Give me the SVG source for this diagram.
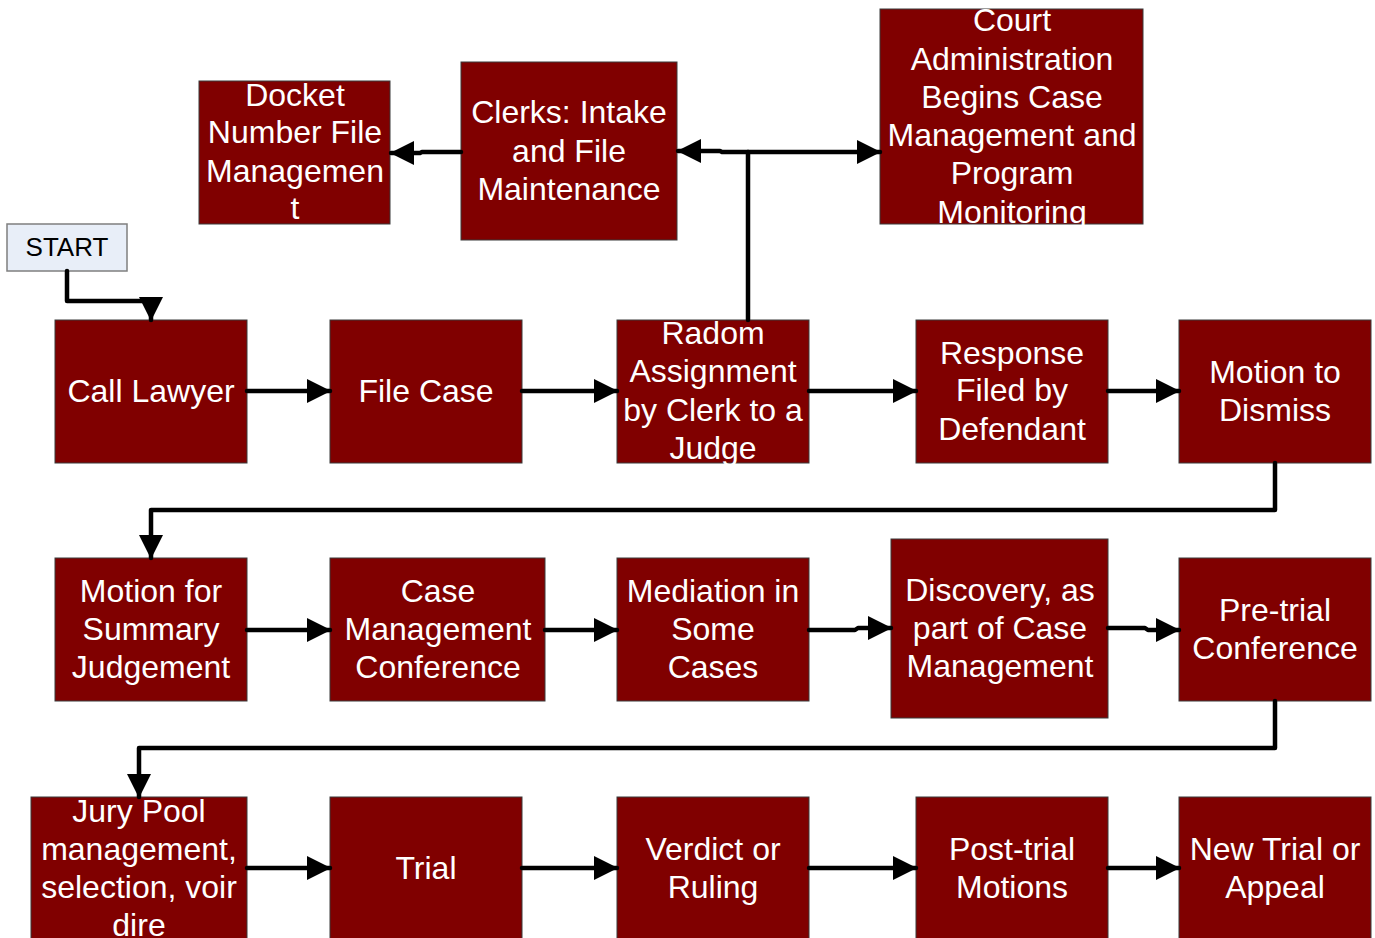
<svg xmlns="http://www.w3.org/2000/svg" width="1375" height="938" viewBox="0 0 1375 938">
<style>
.box{fill:#800000;stroke:#3a3a3a;stroke-width:1}
.t{font-family:"Liberation Sans",Arial,sans-serif;font-size:32px;fill:#ffffff;text-anchor:middle}
.st{fill:#e8eef8;stroke:#7f7f7f;stroke-width:1.5}
.stt{font-family:"Liberation Sans",Arial,sans-serif;font-size:26px;fill:#000000;text-anchor:middle}
.c{fill:none;stroke:#000000;stroke-width:4.5;stroke-linejoin:round;stroke-linecap:round}
</style>
<defs>
<marker id="ah" viewBox="0 0 24 24" refX="23" refY="12" markerWidth="24" markerHeight="24" markerUnits="userSpaceOnUse" orient="auto">
<path d="M0,0 L24,12 L0,24 z" fill="#000000"/>
</marker>
</defs>
<rect width="1375" height="938" fill="#ffffff"/>

<g id="start"><rect class="st" x="7" y="224" width="120" height="47"/><text class="stt" x="67" y="256">START</text></g>

<g id="docket"><rect class="box" x="199" y="81" width="191" height="143"/>
<text class="t" x="295"><tspan x="295" y="106">Docket</tspan><tspan x="295" y="143">Number File</tspan><tspan x="295" y="182">Managemen</tspan><tspan x="295" y="219">t</tspan></text></g>

<g id="clerks"><rect class="box" x="461" y="62" width="216" height="178"/>
<text class="t"><tspan x="569" y="123">Clerks: Intake</tspan><tspan x="569" y="162">and File</tspan><tspan x="569" y="200">Maintenance</tspan></text></g>

<g id="court"><rect class="box" x="880" y="9" width="263" height="215"/>
<text class="t"><tspan x="1012" y="31">Court</tspan><tspan x="1012" y="70">Administration</tspan><tspan x="1012" y="108">Begins Case</tspan><tspan x="1012" y="146">Management and</tspan><tspan x="1012" y="184">Program</tspan><tspan x="1012" y="223">Monitoring</tspan></text></g>

<g id="call-lawyer"><rect class="box" x="55" y="320" width="192" height="143"/>
<text class="t"><tspan x="151" y="402">Call Lawyer</tspan></text></g>

<g id="file-case"><rect class="box" x="330" y="320" width="192" height="143"/>
<text class="t"><tspan x="426" y="402">File Case</tspan></text></g>

<g id="radom"><rect class="box" x="617" y="320" width="192" height="143"/>
<text class="t"><tspan x="713" y="344">Radom</tspan><tspan x="713" y="382">Assignment</tspan><tspan x="713" y="421">by Clerk to a</tspan><tspan x="713" y="459">Judge</tspan></text></g>

<g id="response"><rect class="box" x="916" y="320" width="192" height="143"/>
<text class="t"><tspan x="1012" y="364">Response</tspan><tspan x="1012" y="401">Filed by</tspan><tspan x="1012" y="440">Defendant</tspan></text></g>

<g id="dismiss"><rect class="box" x="1179" y="320" width="192" height="143"/>
<text class="t"><tspan x="1275" y="383">Motion to</tspan><tspan x="1275" y="421">Dismiss</tspan></text></g>

<g id="summary"><rect class="box" x="55" y="558" width="192" height="143"/>
<text class="t"><tspan x="151" y="602">Motion for</tspan><tspan x="151" y="640">Summary</tspan><tspan x="151" y="678">Judgement</tspan></text></g>

<g id="case-mgmt"><rect class="box" x="330" y="558" width="215" height="143"/>
<text class="t"><tspan x="438" y="602">Case</tspan><tspan x="438" y="640">Management</tspan><tspan x="438" y="678">Conference</tspan></text></g>

<g id="mediation"><rect class="box" x="617" y="558" width="192" height="143"/>
<text class="t"><tspan x="713" y="602">Mediation in</tspan><tspan x="713" y="640">Some</tspan><tspan x="713" y="678">Cases</tspan></text></g>

<g id="discovery"><rect class="box" x="891" y="539" width="217" height="179"/>
<text class="t"><tspan x="1000" y="601">Discovery, as</tspan><tspan x="1000" y="639">part of Case</tspan><tspan x="1000" y="677">Management</tspan></text></g>

<g id="pretrial"><rect class="box" x="1179" y="558" width="192" height="143"/>
<text class="t"><tspan x="1275" y="621">Pre-trial</tspan><tspan x="1275" y="659">Conference</tspan></text></g>

<g id="jury"><rect class="box" x="31" y="797" width="216" height="145"/>
<text class="t"><tspan x="139" y="822">Jury Pool</tspan><tspan x="139" y="860">management,</tspan><tspan x="139" y="898">selection, voir</tspan><tspan x="139" y="936">dire</tspan></text></g>

<g id="trial"><rect class="box" x="330" y="797" width="192" height="145"/>
<text class="t"><tspan x="426" y="879">Trial</tspan></text></g>

<g id="verdict"><rect class="box" x="617" y="797" width="192" height="145"/>
<text class="t"><tspan x="713" y="860">Verdict or</tspan><tspan x="713" y="898">Ruling</tspan></text></g>

<g id="posttrial"><rect class="box" x="916" y="797" width="192" height="145"/>
<text class="t"><tspan x="1012" y="860">Post-trial</tspan><tspan x="1012" y="898">Motions</tspan></text></g>

<g id="newtrial"><rect class="box" x="1179" y="797" width="192" height="145"/>
<text class="t"><tspan x="1275" y="860">New Trial or</tspan><tspan x="1275" y="898">Appeal</tspan></text></g>

<g id="connectors">
<path class="c" d="M67,271 L67,301 L151,301 L151,320" marker-end="url(#ah)"/>
<path class="c" d="M461,152 L422,152 L420,153 L391,153" marker-end="url(#ah)"/>
<path class="c" d="M748,320 L748,152"/>
<path class="c" d="M748,152 L722,152 L720,151 L678,151" marker-end="url(#ah)"/>
<path class="c" d="M748,152 L880,152" marker-end="url(#ah)"/>
<path class="c" d="M247,391 L330,391" marker-end="url(#ah)"/>
<path class="c" d="M522,391 L617,391" marker-end="url(#ah)"/>
<path class="c" d="M809,391 L916,391" marker-end="url(#ah)"/>
<path class="c" d="M1108,391 L1179,391" marker-end="url(#ah)"/>
<path class="c" d="M1275,463 L1275,510 L151,510 L151,558" marker-end="url(#ah)"/>
<path class="c" d="M247,630 L330,630" marker-end="url(#ah)"/>
<path class="c" d="M545,630 L617,630" marker-end="url(#ah)"/>
<path class="c" d="M809,630 L855,630 L858,628 L891,628" marker-end="url(#ah)"/>
<path class="c" d="M1108,628 L1145,628 L1148,630 L1179,630" marker-end="url(#ah)"/>
<path class="c" d="M1275,701 L1275,748 L139,748 L139,797" marker-end="url(#ah)"/>
<path class="c" d="M247,868 L330,868" marker-end="url(#ah)"/>
<path class="c" d="M522,868 L617,868" marker-end="url(#ah)"/>
<path class="c" d="M809,868 L916,868" marker-end="url(#ah)"/>
<path class="c" d="M1108,868 L1179,868" marker-end="url(#ah)"/>
</g>
</svg>
